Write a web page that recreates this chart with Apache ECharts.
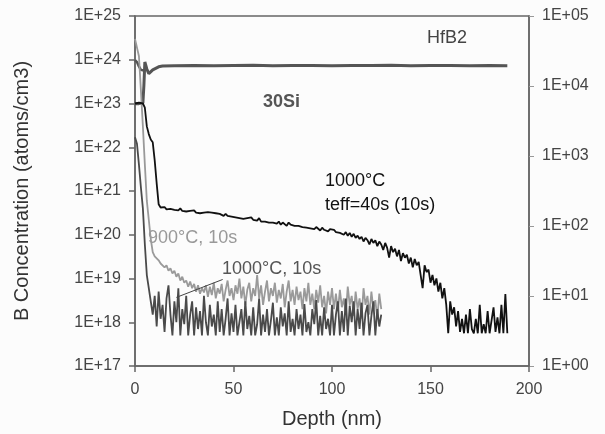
<!DOCTYPE html>
<html>
<head>
<meta charset="utf-8">
<script src="https://cdn.jsdelivr.net/npm/echarts@6/dist/echarts.min.js"></script>
<style>
  html, body { margin: 0; padding: 0; background: #fcfcfc; }
  #chart { width: 605px; height: 434px; }
</style>
</head>
<body>
<div id="chart"></div>
<script>
// B profiles sampled every 1 nm, starting at 0 nm
const stepNm = 1

const b1000teff = [
  1e23, 1e23, 1.05e23, 1e23, 1e23, 8e22, 3e22, 2e22, 1.5e22, 1.3e22, 5e21, 1.5e21, 5e20, 4.2e20,
  4.0e20, 4.3e20, 3.8e20, 4.1e20, 3.9e20, 4.2e20, 3.7e20, 3.9e20, 3.6e20, 4.0e20, 3.5e20, 3.8e20, 3.4e20, 3.7e20, 3.5e20, 3.3e20,
  3.6e20, 3.2e20, 3.5e20, 3.1e20, 3.4e20, 3.2e20, 3.0e20, 3.3e20, 3.0e20, 3.2e20, 2.9e20, 3.1e20, 2.8e20, 3.0e20, 2.9e20, 2.7e20,
  3.0e20, 2.7e20, 2.9e20, 2.6e20, 2.8e20,
  2.5e20, 2.7e20, 2.4e20, 2.6e20, 2.3e20, 2.5e20, 2.4e20, 2.2e20, 2.5e20, 2.2e20, 2.3e20, 2.1e20, 2.4e20, 2.0e20, 2.2e20, 2.0e20,
  2.2e20, 1.9e20, 2.1e20, 1.9e20, 2.0e20, 1.8e20, 2.0e20, 1.7e20, 1.9e20, 1.8e20, 1.6e20, 1.9e20, 1.7e20, 1.8e20, 1.6e20, 1.7e20, 1.6e20,
  1.75e20, 1.5e20, 1.6e20, 1.45e20, 1.6e20, 1.4e20, 1.55e20, 1.35e20, 1.5e20, 1.4e20, 1.25e20, 1.45e20, 1.3e20, 1.4e20, 1.2e20, 1.35e20, 1.25e20,
  1.3e20, 1.15e20, 1.25e20, 1.1e20, 1.2e20, 1.0e20, 1.15e20, 9.5e19, 1.1e20, 9e19, 1.05e20, 8.5e19, 9.5e19, 8e19, 9e19, 7e19,
  8.5e19, 7.5e19, 6e19, 8e19, 6.5e19, 7.5e19, 5.5e19, 7e19,
  6e19, 4.5e19, 6.5e19, 5e19, 3e19, 5.5e19, 4e19, 4.8e19, 3.2e19, 4.5e19, 2.5e19, 3.8e19, 3e19, 3.5e19, 2.2e19, 3e19,
  1.8e19, 2.8e19, 2e19, 2.4e19, 1.2e19, 6e18, 2e19, 1.4e19,
  1.6e19, 8e18, 1.2e19, 7e18, 1e19, 5e18, 8e18, 3.5e18, 6e18, 2.5e18, 5.6e17, 3e18, 1.5e18, 2.2e18, 8e17, 1.8e18, 6e17, 1.2e18,
  5.6e17, 1.5e18, 5.6e17, 2e18, 7e17, 5.6e17, 1.2e18, 5.6e17, 2.5e18, 5.6e17, 9e17, 5.6e17, 1.8e18, 5.6e17, 5.6e17, 2.2e18,
  6e17, 1.3e18, 5.6e17, 2.5e18, 5.6e17, 4.4e18, 5.6e17
]

const b900 = [
  3e24, 3.3e24, 1.2e24, 2e23, 3e22, 4e21, 6e20, 2.2e20, 8e19, 4e19, 3.2e19, 3.5e19, 2.6e19, 2.2e19, 2.4e19, 1.8e19, 2e19, 1.5e19,
  1.7e19, 1.3e19, 1.5e19, 1.1e19, 1.3e19, 9e18, 1.1e19, 8e18, 9e18, 6.5e18, 8.5e18, 6e18, 7.5e18, 5e18, 7e18, 4.5e18, 6e18, 4.8e18,
  7e18, 3.8e18, 6.5e18, 4.2e18, 8e18, 3.5e18, 6e18, 4.5e18, 7.5e18, 3e18, 5.5e18, 9e18, 4e18, 6e18, 3.2e18, 7e18, 4.5e18, 1e19,
  3.5e18, 6.5e18, 2.5e18, 5.5e18, 8e18, 3e18, 6e18, 4e18, 1.2e19, 3.5e18, 7e18, 2.5e18, 5e18, 9e18, 3e18, 6e18, 4e18, 8e18,
  2.8e18, 5.5e18, 3.5e18, 7.5e18, 2.2e18, 5e18, 9e18, 3e18, 5.5e18, 2.5e18, 6.5e18, 3.2e18, 5e18, 2e18, 6e18, 3e18, 8e18, 2.5e18,
  4.5e18, 2e18, 5.5e18, 2.8e18, 7e18, 2.2e18, 4e18, 1.6e18, 5e18, 2.5e18, 6e18, 2e18, 4.5e18, 1.8e18, 5.5e18, 2.2e18, 3.5e18, 1.5e18,
  6.5e18, 2.5e18, 4e18, 1.4e18, 5e18, 2e18, 3.5e18, 1.2e18, 6e18, 2.5e18, 4e18, 1.5e18, 5e18, 2e18, 3.2e18, 1.2e18, 4.5e18, 2e18
]

const b1000 = [
  1.7e22, 1.2e22, 4e21, 1.2e21, 4e20, 6e19, 1.2e19, 6e18, 3e18, 1.5e18, 4e18, 8e17, 5e18, 1.2e18, 2.5e18, 6e17, 3.5e18, 7e18,
  1.5e18, 5e17, 3e18, 1e18, 6e18, 5e17, 2e18, 9e17, 4e18, 5e17, 1.5e18, 3e18, 5e17, 2.2e18, 7e17, 1.8e18, 5e17, 4e18,
  1e18, 5e17, 2.5e18, 8e17, 1.5e18, 5e17, 3e18, 6e17, 2e18, 5e17, 1.2e18, 3.5e18, 5e17, 1.6e18, 6e17, 2.5e18, 5e17, 1e18,
  2e18, 5e17, 3e18, 7e17, 1.4e18, 5e17, 2.2e18, 5e17, 9e17, 3.5e18, 5e17, 1.5e18, 6e17, 2e18, 5e17, 1.1e18, 2.8e18, 5e17,
  1.3e18, 5e17, 2.2e18, 8e17, 1.6e18, 5e17, 3e18, 6e17, 1.2e18, 5e17, 2e18, 7e17, 1.5e18, 5e17, 2.6e18, 6e17, 1e18, 5e17,
  2e18, 9e17, 3.2e18, 5e17, 1.4e18, 5e17, 2.2e18, 7e17, 1.2e18, 5e17, 2.5e18, 5e17, 1.5e18, 3e18, 5e17, 1.8e18, 6e17, 3.5e18,
  5e17, 2.4e18, 1e18, 3e18, 5e17, 2e18, 7e17, 2.8e18, 5e17, 1.6e18, 2.5e18, 5e17, 1.4e18, 3e18, 5e17, 2e18, 8e17, 1.5e18
]

// matrix signals (counts, right axis)
const siDepth = [0, 1, 2, 3, 4, 4.5, 5, 6, 7, 7.5, 8, 9, 10, 12, 14, 20, 30, 40, 50, 60, 70, 80, 90, 100, 110, 120, 130, 140, 150, 160, 170, 180, 189]
const siCounts = [5.6e3, 5.7e3, 5.6e3, 5.8e3, 5.7e3, 1e4, 2.2e4, 1.75e4, 1.5e4, 1.45e4, 1.55e4, 1.7e4, 1.8e4, 1.88e4, 1.93e4,
  1.95e4, 1.97e4, 1.94e4, 1.96e4, 1.98e4, 1.95e4, 1.97e4, 1.96e4, 1.94e4, 1.97e4, 1.96e4, 1.98e4, 1.95e4, 1.96e4, 1.97e4, 1.95e4, 1.96e4, 1.95e4]
const hfDepth = [0, 1, 2, 3, 4, 5]
const hfCounts = [2.35e4, 2.2e4, 1.9e4, 1.7e4, 1.6e4, 1.65e4]

const pairs = arr => arr.map((v, i) => [i * stepNm, v])
const zip = (xs, ys) => xs.map((x, i) => [x, ys[i]])

const expLabel = v => {
  const e = Math.round(Math.log10(v))
  return '1E+' + (e < 10 ? '0' + e : e)
}

const font = 'Liberation Sans, Arial, sans-serif'
const chart = echarts.init(document.getElementById('chart'), null, { renderer: 'canvas' })

const txt = (left, top, text, color, size, weight) => ({
  type: 'text', left, top,
  style: { text, fill: color, font: (weight || 'normal') + ' ' + size + 'px ' + font }
})

chart.setOption({
  backgroundColor: '#fcfcfc',
  animation: false,
  grid: { left: 135, right: 76, top: 16, bottom: 67, show: true, borderColor: '#666', borderWidth: 1.5 },
  xAxis: {
    type: 'value', min: 0, max: 200, interval: 50,
    name: 'Depth (nm)', nameLocation: 'middle', nameGap: 43,
    nameTextStyle: { color: '#333', fontSize: 20, fontFamily: font },
    axisLine: { lineStyle: { color: '#666', width: 1.5 } },
    axisTick: { length: 6, lineStyle: { color: '#666', width: 1.5 } },
    axisLabel: { color: '#444', fontSize: 16, fontFamily: font, margin: 16 },
    splitLine: { show: false }
  },
  yAxis: [
    {
      type: 'log', logBase: 10, min: 1e17, max: 1e25,
      name: 'B Concentration (atoms/cm3)', nameLocation: 'middle', nameGap: 103,
      nameTextStyle: { color: '#333', fontSize: 20, fontFamily: font },
      axisLine: { show: true, lineStyle: { color: '#666', width: 1.5 } },
      axisTick: { show: true, length: 6, lineStyle: { color: '#666', width: 1.5 } },
      axisLabel: { color: '#444', fontSize: 16, fontFamily: font, margin: 14, formatter: expLabel },
      splitLine: { show: false }
    },
    {
      type: 'log', logBase: 10, min: 1, max: 1e5, position: 'right',
      axisLine: { show: true, lineStyle: { color: '#666', width: 1.5 } },
      axisTick: { show: true, length: 5, lineStyle: { color: '#999', width: 1 } },
      axisLabel: { color: '#444', fontSize: 16, fontFamily: font, margin: 13, formatter: expLabel },
      splitLine: { show: false }
    }
  ],
  series: [
    { name: 'HfB2', type: 'line', yAxisIndex: 1, data: zip(hfDepth, hfCounts), symbol: 'none',
      lineStyle: { color: '#555', width: 2.5 } },
    { name: '30Si', type: 'line', yAxisIndex: 1, data: zip(siDepth, siCounts), symbol: 'none',
      lineStyle: { color: '#555', width: 3 } },
    { name: '900°C, 10s', type: 'line', data: pairs(b900), symbol: 'none',
      lineStyle: { color: '#9a9a9a', width: 1.8 } },
    { name: '1000°C, 10s', type: 'line', data: pairs(b1000), symbol: 'none',
      lineStyle: { color: '#4a4a4a', width: 1.8 },
      markLine: {
        silent: true, symbol: 'none', label: { show: false },
        lineStyle: { color: '#444', width: 1, type: 'solid' },
        data: [[{ coord: [44.5, 9.5e18] }, { coord: [21, 3.7e18] }]]
      } },
    { name: '1000°C teff=40s', type: 'line', data: pairs(b1000teff), symbol: 'none',
      lineStyle: { color: '#111', width: 1.8 } }
  ],
  graphic: [
    txt(427, 29, 'HfB2', '#444', 18),
    txt(263, 93, '30Si', '#555', 18, 'bold'),
    txt(325, 172, '1000°C', '#111', 18),
    txt(325, 196, 'teff=40s (10s)', '#111', 18),
    txt(148, 229, '900°C, 10s', '#999', 18),
    txt(222, 260, '1000°C, 10s', '#555', 18)
  ]
})
</script>
</body>
</html>
